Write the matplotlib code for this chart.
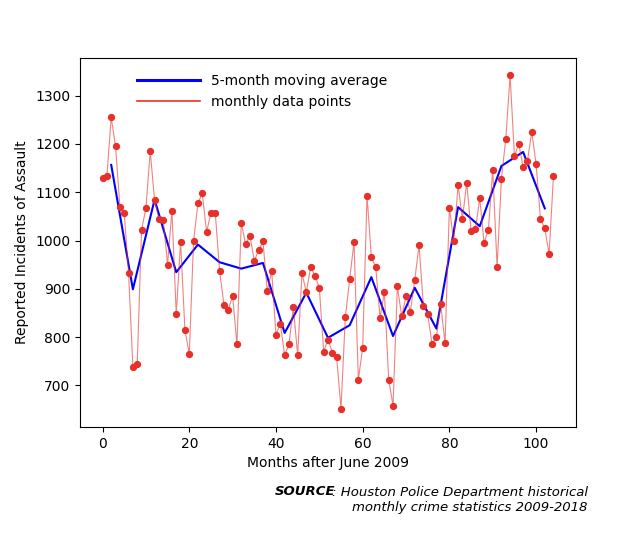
import matplotlib
matplotlib.use("Agg")
import matplotlib.pyplot as plt
import numpy as np

# monthly assault counts, months after June 2009
assaults = [1130, 1133, 1255, 1195, 1070, 1057, 933, 738, 745, 1022,
            1067, 1185, 1083, 1045, 1043, 950, 1062, 848, 997, 815,
            765, 1000, 1077, 1098, 1018, 1057, 1057, 937, 867, 857,
            885, 785, 1037, 992, 1010, 958, 980, 998, 895, 937,
            805, 828, 763, 785, 862, 763, 932, 893, 945, 927,
            902, 770, 795, 768, 758, 652, 842, 920, 997, 712,
            778, 1093, 965, 945, 840, 893, 712, 658, 905, 843,
            885, 853, 918, 990, 865, 848, 785, 800, 868, 787,
            1068, 998, 1115, 1045, 1120, 1020, 1023, 1088, 995, 1022,
            1147, 945, 1128, 1210, 1342, 1175, 1200, 1152, 1165, 1225,
            1158, 1045, 1025, 972, 1133]
months = np.arange(len(assaults))

vals = np.array(assaults, dtype=float)
nblk = len(vals) // 5
ma = vals[:nblk * 5].reshape(nblk, 5).mean(axis=1)
ma_x = np.arange(nblk) * 5 + 2

fig, ax = plt.subplots(figsize=(6.4, 5.37), dpi=100)
fig.subplots_adjust(left=0.125, right=0.9, bottom=0.205, top=0.892)
ax.plot(ma_x, ma, color="blue", lw=1.5, label="5-month moving average")
ax.plot(months, assaults, color="#e8302a", lw=0.8, alpha=0.6, label="monthly data points")
ax.scatter(months, assaults, color="#e8302a", s=18, zorder=3)
leg = ax.legend(loc="upper left", frameon=False, bbox_to_anchor=(0.09, 0.99),
                handlelength=4.5)
lws = [2.2, 1.2]
for h, w in zip(leg.get_lines(), lws):
    h.set_alpha(1)
    h.set_linewidth(w)
ax.set_xlabel("Months after June 2009")
ax.set_ylabel("Reported Incidents of Assault")
ax.set_yticks(range(700, 1301, 100))
ax.set_xlim(-5.2, 109.2)
ax.set_ylim(614, 1378)

t1 = fig.text(0.918, 0.043, ": Houston Police Department historical\nmonthly crime statistics 2009-2018",
              ha="right", va="bottom", style="italic", fontsize=9.5, linespacing=1.2,
              multialignment="right")
fig.canvas.draw()
bb = t1.get_window_extent()
fig.text(0, 0, "SOURCE", transform=None, style="italic", fontweight="bold", fontsize=9.5,
         ha="right", va="top").set_position((bb.x0 + 4, bb.y1 + 1))
fig.savefig("out.png", dpi=100)
